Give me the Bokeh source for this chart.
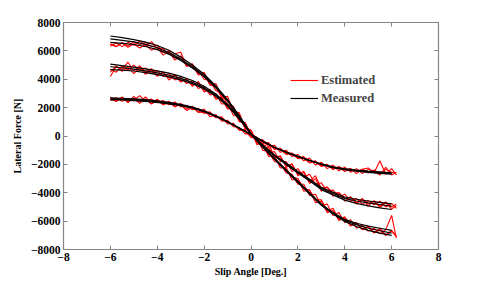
from bokeh.plotting import figure
from bokeh.models import (FixedTicker, LinearAxis, Legend, LegendItem,
                          CustomJSTickFormatter, Range1d)
from bokeh.embed import file_html
from bokeh.resources import INLINE

# ---------------- data ----------------
x_meas = [-6, -5.5, -5, -4.5, -4, -3.5, -3, -2.5, -2, -1.5, -1, -0.5, 0,
          0.5, 1, 1.5, 2, 2.5, 3, 3.5, 4, 4.5, 5, 5.5, 6]

meas_high_1 = [7050, 6930, 6790, 6620, 6380, 6040, 5560, 5010, 4350, 3530, 2570, 1430, 150,
               -800, -1640, -2480, -3290, -4090, -4880, -5500, -6020, -6380, -6650, -6850, -7000]
meas_high_2 = [6850, 6740, 6630, 6460, 6220, 5880, 5420, 4880, 4250, 3450, 2500, 1390, 150,
               -780, -1600, -2430, -3240, -4040, -4840, -5450, -5950, -6250, -6500, -6680, -6850]
meas_high_3 = [6600, 6530, 6450, 6310, 6090, 5770, 5330, 4800, 4180, 3390, 2460, 1360, 150,
               -760, -1560, -2390, -3190, -3990, -4790, -5400, -5880, -6150, -6350, -6500, -6650]

meas_mid_1 = [5060, 4960, 4860, 4730, 4590, 4430, 4200, 3910, 3510, 2960, 2230, 1270, 150,
              -680, -1390, -2010, -2610, -3180, -3780, -4150, -4520, -4750, -4920, -5060, -5180]
meas_mid_2 = [4880, 4810, 4720, 4590, 4450, 4280, 4060, 3780, 3400, 2870, 2160, 1230, 150,
              -660, -1360, -1960, -2560, -3110, -3700, -4050, -4400, -4580, -4720, -4830, -4950]
meas_mid_3 = [4680, 4640, 4580, 4470, 4330, 4170, 3960, 3690, 3320, 2810, 2120, 1200, 150,
              -640, -1330, -1910, -2500, -3040, -3620, -3960, -4300, -4460, -4580, -4680, -4780]

meas_low_1 = [2690, 2660, 2620, 2560, 2470, 2370, 2230, 2040, 1780, 1430, 1020, 570, 100,
              -360, -790, -1130, -1440, -1730, -2000, -2230, -2370, -2480, -2560, -2630, -2690]
meas_low_2 = [2620, 2590, 2550, 2490, 2410, 2310, 2180, 2000, 1750, 1400, 1000, 560, 100,
              -370, -800, -1140, -1440, -1730, -1990, -2210, -2340, -2440, -2510, -2580, -2640]
meas_low_3 = [2560, 2540, 2500, 2440, 2360, 2260, 2130, 1960, 1720, 1380, 980, 550, 100,
              -380, -810, -1150, -1450, -1720, -1970, -2180, -2310, -2400, -2470, -2530, -2590]

x_est = [-6, -5.75, -5.5, -5.25, -5, -4.75, -4.5, -4.25, -4, -3.75, -3.5, -3.25, -3,
         -2.75, -2.5, -2.25, -2, -1.75, -1.5, -1.25, -1, -0.75, -0.5, -0.25, 0,
         0.25, 0.5, 0.75, 1, 1.25, 1.5, 1.75, 2, 2.25, 2.5, 2.75, 3, 3.25, 3.5,
         3.75, 4, 4.25, 4.5, 4.75, 5, 5.25, 5.5, 5.75, 6, 6.2]

est_high_1 = [6350, 6550, 6300, 6600, 6400, 6700, 6350, 6650, 6200, 6150,
              5750, 5800, 5900, 4950, 5000, 4300, 4400, 3600, 3500, 2700,
              2600, 1700, 1500, 600, 400, -400, -600, -1300, -1500, -2100,
              -2300, -2900, -3000, -3700, -3800, -4500, -4500, -5300, -5100, -5900,
              -5700, -6300, -6100, -6600, -6400, -6800, -6600, -7000, -6700, -7100]
est_high_2 = [6500, 6300, 6600, 6350, 6650, 6450, 6600, 6300, 6400, 5900,
              6000, 5500, 5600, 5050, 4800, 4600, 4000, 3900, 3200, 3000,
              2200, 2100, 1100, 900, 100, -100, -1000, -1100, -1800, -1900,
              -2600, -2700, -3400, -3400, -4200, -4100, -4900, -4800, -5600, -5400,
              -6100, -5900, -6500, -6300, -6700, -6500, -6900, -6600, -5600, -7200]
est_high_3 = [6450, 6300, 6550, 6250, 6500, 6200, 6450, 6050, 6250, 5700,
              5950, 5350, 5650, 4900, 5100, 4350, 4500, 3600, 3700, 2750,
              2800, 1700, 1650, 550, 400, -600, -500, -1450, -1350, -2250,
              -2200, -3100, -3000, -3900, -3800, -4700, -4600, -5400, -5250, -5950,
              -5800, -6350, -6100, -6600, -6350, -6850, -6500, -7000, -6650, -7050]
est_mid_1 = [4200, 4900, 4700, 5200, 4600, 4950, 4500, 4750, 4300, 4500,
             4100, 4300, 3850, 4000, 3600, 3700, 3250, 3150, 2700, 2600,
             1950, 1850, 1050, 900, 150, -100, -800, -800, -1500, -1450,
             -2100, -2000, -2700, -2500, -3200, -2800, -3700, -3600, -4000, -4000,
             -4400, -4300, -4700, -4500, -4800, -4600, -4950, -4650, -5000, -4800]
est_mid_2 = [4700, 4500, 4950, 4650, 5000, 4600, 4800, 4400, 4600, 4200,
             4400, 3950, 4150, 3700, 3900, 3350, 3500, 2900, 3000, 2250,
             2300, 1450, 1400, 500, 400, -500, -500, -1200, -1100, -1800,
             -1800, -2500, -2300, -2900, -2700, -3400, -3300, -3900, -3800, -4300,
             -4100, -4600, -4400, -4800, -4550, -4850, -4600, -5000, -4750, -5100]
est_mid_3 = [4500, 4950, 4550, 4900, 4400, 4800, 4350, 4650, 4200, 4500,
             3950, 4300, 3800, 4050, 3500, 3850, 3100, 3300, 2600, 2750,
             1900, 2000, 1000, 950, 0, -100, -850, -450, -1550, -1400,
             -2200, -1950, -2800, -2550, -3350, -3000, -3900, -3600, -4250, -4000,
             -4600, -4300, -4800, -4400, -4950, -4550, -5050, -4700, -5150, -4900]
est_low_1 = [2750, 2450, 2700, 2350, 2800, 2400, 2750, 2300, 2600, 2250,
             2450, 2050, 2300, 1900, 2100, 1650, 1900, 1350, 1500, 1050,
             1100, 650, 600, 150, 200, -350, -250, -750, -650, -1150,
             -1000, -1450, -1300, -1750, -1550, -2050, -1850, -2300, -2050, -2450,
             -2200, -2550, -2300, -2650, -2350, -2500, -2750, -2200, -2750, -2550]
est_low_2 = [2500, 2700, 2450, 2650, 2500, 2850, 2450, 2600, 2350, 2500,
             2200, 2400, 2050, 2150, 1850, 1950, 1600, 1700, 1300, 1350,
             850, 900, 400, 450, -50, -250, -350, -550, -950, -850,
             -1250, -1200, -1550, -1450, -1850, -1750, -2150, -2000, -2350, -2200,
             -2500, -2300, -2650, -2350, -2250, -2600, -1750, -2700, -2300, -2750]
est_low_3 = [2600, 2450, 2750, 2400, 2650, 2300, 2600, 2250, 2500, 2200,
             2350, 2100, 2200, 1800, 2000, 1700, 1650, 1550, 1300, 1250,
             950, 800, 450, 350, -100, -150, -500, -500, -900, -950,
             -1300, -1250, -1600, -1550, -1900, -1800, -2100, -2050, -2350, -2150,
             -2400, -2300, -2500, -2350, -2600, -2400, -2650, -2350, -2550, -2650]

x_ticks = [-8, -6, -4, -2, 0, 2, 4, 6, 8]
y_ticks = [-8000, -6000, -4000, -2000, 0, 2000, 4000, 6000, 8000]

# ---------------- figure ----------------
FONT = "Liberation Serif"
AXIS_COL = "#858585"

p = figure(width=485, height=281, x_range=Range1d(-8, 8), y_range=Range1d(-8000, 8000),
           output_backend="svg", toolbar_location=None,
           min_border_left=63, min_border_right=47, min_border_top=22, min_border_bottom=32,
           x_axis_label="Slip Angle [Deg.]", y_axis_label="Lateral Force [N]")
p.xgrid.visible = False
p.ygrid.visible = False
p.outline_line_color = AXIS_COL
p.background_fill_color = "white"
p.border_fill_color = "white"

fmt = CustomJSTickFormatter(code="return tick < 0 ? '\u2212' + Math.abs(tick) : String(tick);")

def style_axis(ax, ticks, labels=True):
    ax.ticker = FixedTicker(ticks=ticks)
    ax.minor_tick_line_color = None
    ax.major_tick_in = 4
    ax.major_tick_out = 0
    ax.axis_line_color = AXIS_COL
    ax.major_tick_line_color = AXIS_COL
    ax.axis_line_width = 1.2
    ax.major_label_text_font = FONT
    ax.major_label_text_font_style = "bold"
    ax.major_label_text_font_size = "11.5px"
    ax.major_label_text_color = "black"
    ax.axis_label_text_font = FONT
    ax.axis_label_text_font_style = "bold"
    ax.axis_label_text_font_size = "10px"
    ax.axis_label_text_color = "black"
    if labels:
        ax.formatter = fmt
    else:
        ax.major_label_text_font_size = "0px"

style_axis(p.xaxis[0], x_ticks)
style_axis(p.yaxis[0], y_ticks)
p.xaxis[0].major_label_standoff = 3
p.xaxis[0].axis_label_standoff = 2
p.yaxis[0].major_label_standoff = 3
p.yaxis[0].axis_label_standoff = 5

top_ax = LinearAxis()
style_axis(top_ax, x_ticks, labels=False)
p.add_layout(top_ax, "above")
right_ax = LinearAxis()
style_axis(right_ax, y_ticks, labels=False)
p.add_layout(right_ax, "right")

RED = "#ff0000"
red_renderers = []
for ys in [est_high_1, est_high_2, est_high_3, est_mid_1, est_mid_2, est_mid_3,
           est_low_1, est_low_2, est_low_3]:
    red_renderers.append(p.line(x_est, ys, line_color=RED, line_width=1.1))

black_renderers = []
for ys in [meas_high_1, meas_high_2, meas_high_3, meas_mid_1, meas_mid_2, meas_mid_3,
           meas_low_1, meas_low_2, meas_low_3]:
    black_renderers.append(p.line(x_meas, ys, line_color="black", line_width=1.2))

legend = Legend(items=[LegendItem(label="Estimated", renderers=[red_renderers[0]]),
                       LegendItem(label="Measured", renderers=[black_renderers[0]])],
                location=(227, 143), padding=0, margin=0, spacing=2,
                glyph_width=28, glyph_height=16, label_height=16, label_standoff=3,
                label_text_font=FONT, label_text_font_style="bold",
                label_text_font_size="12.5px",
                background_fill_alpha=0, border_line_alpha=0)
p.add_layout(legend)

open("out.html", "w").write(file_html(p, INLINE))
